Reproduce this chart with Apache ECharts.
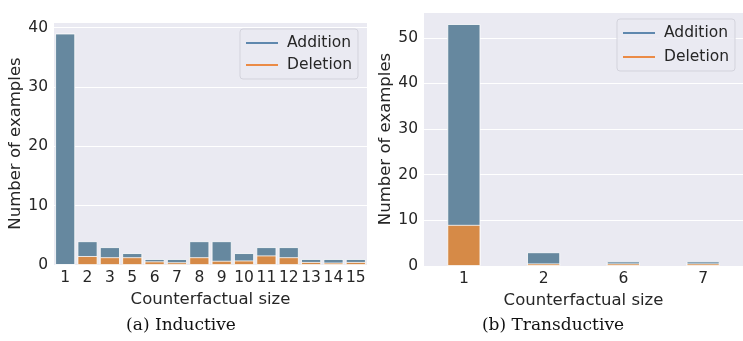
<!DOCTYPE html>
<html>
<head>
<meta charset="utf-8">
<script src="https://cdn.jsdelivr.net/npm/echarts@6/dist/echarts.min.js"></script>
<style>html,body{margin:0;padding:0;background:#fff;}#c{width:743px;height:341px;}</style>
</head>
<body>
<div id="c"></div>
<script>
// Inductive
const indCategories = ['1','2','3','5','6','7','8','9','10','11','12','13','14','15'];
const indAddition = [39,4,3,2,1,1,4,4,2,3,3,1,1,1];
const indDeletion = [0,1.5,1.3,1.3,0.6,0.45,1.3,0.7,0.75,1.6,1.3,0.5,0.4,0.5];
// Transductive
const traCategories = ['1','2','6','7'];
const traAddition = [53,3,1,1];
const traDeletion = [9,0.55,0.55,0.55];
const indYTicks = [0,10,20,30,40];
const traYTicks = [0,10,20,30,40,50];
const captions = ['(a) Inductive','(b) Transductive'];

const TXT = '#262626';
const BLUE = '#66889F', ORANGE = '#D68A47';
const LBLUE = '#5f88ae', LORANGE = '#eb8b46';
const FONT = 'DejaVu Sans';

function xAxis(idx, cats){
  return {type:'category', gridIndex:idx, data:cats,
    name:'Counterfactual size', nameLocation:'middle', nameGap:20,
    nameTextStyle:{fontFamily:FONT,fontSize:16.5,color:TXT},
    axisLine:{show:false}, axisTick:{show:false},
    axisLabel:{fontFamily:FONT,fontSize:15.5,color:TXT,margin:5,interval:0},
    splitLine:{show:false}};
}
function yAxis(idx, max, ticks, gap){
  return {type:'value', gridIndex:idx, min:0, max:max, interval:10,
    name:'Number of examples', nameLocation:'middle', nameGap:gap,
    nameTextStyle:{fontFamily:FONT,fontSize:16.5,color:TXT},
    axisLine:{show:false}, axisTick:{show:false},
    axisLabel:{fontFamily:FONT,fontSize:15.5,color:TXT,margin:6,
      formatter:v=> ticks.indexOf(v)>=0 ? String(v) : ''},
    splitLine:{lineStyle:{color:'#ffffff',width:1}}};
}
function legend(left, top, gap){
  return {left:left, top:top, orient:'vertical', itemWidth:32, itemHeight:2, itemGap:gap,
    icon:'rect', padding:[6,6,6,6],
    backgroundColor:'rgba(234,234,242,0.85)', borderColor:'#d3d3dc', borderWidth:1, borderRadius:3,
    textStyle:{fontFamily:FONT,fontSize:15.5,color:TXT,padding:[0,0,0,4]},
    selectedMode:false,
    data:[{name:'Addition',itemStyle:{color:LBLUE,borderWidth:0}},{name:'Deletion',itemStyle:{color:LORANGE,borderWidth:0}}]};
}
function bars(idx, add, del, w){
  const st = (c)=>({color:c, borderColor:'#ffffff', borderWidth:0.8});
  return [
    {name:'Addition', type:'bar', xAxisIndex:idx, yAxisIndex:idx, data:add, barWidth:w, barGap:'-100%', itemStyle:st(BLUE), silent:true},
    {name:'Deletion', type:'bar', xAxisIndex:idx, yAxisIndex:idx, data:del, barWidth:w, barGap:'-100%', itemStyle:st(ORANGE), silent:true}
  ];
}

const chart = echarts.init(document.getElementById('c'), null, {renderer:'canvas'});
chart.setOption({
  animation:false,
  backgroundColor:'#ffffff',
  grid:[
    {left:54, top:22, width:313, height:243, show:true, backgroundColor:'#EAEAF2', borderWidth:0},
    {left:424, top:12, width:327, height:254, show:true, backgroundColor:'#EAEAF2', borderWidth:0}
  ],
  xAxis:[xAxis(0, indCategories), xAxis(1, traCategories)],
  yAxis:[yAxis(0, 40.95, indYTicks, 25), yAxis(1, 55.65, traYTicks, 28)],
  legend:[legend(240, 29, 6), legend(617, 19, 8)],
  series:[...bars(0, indAddition, indDeletion, 20), ...bars(1, traAddition, traDeletion, 33)],
  graphic:[
    {type:'text', style:{text:captions[0], x:181, y:326, textAlign:'center', textVerticalAlign:'middle', font:'17px "DejaVu Serif"', fill:'#111'}},
    {type:'text', style:{text:captions[1], x:553, y:326, textAlign:'center', textVerticalAlign:'middle', font:'17px "DejaVu Serif"', fill:'#111'}}
  ]
});
</script>
</body>
</html>
